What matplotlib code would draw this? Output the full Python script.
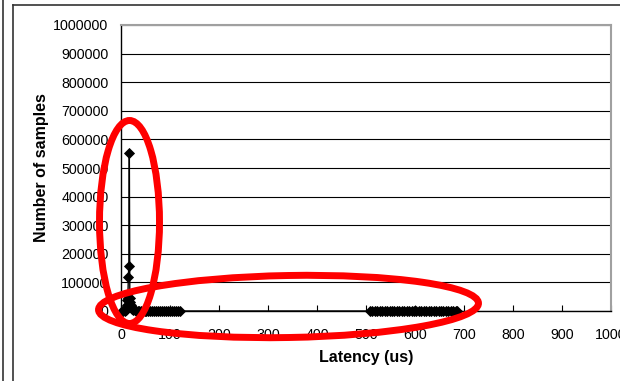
import matplotlib
matplotlib.use("Agg")
import matplotlib.pyplot as plt
from matplotlib.patches import Ellipse
from matplotlib.lines import Line2D
from matplotlib.ticker import FuncFormatter

plt.rcParams['font.family'] = ['Liberation Sans', 'DejaVu Sans']

# latency histogram: fast path peak near 17 us, slow path spread 500-690 us
lat_fast = [2, 5, 8, 10, 12, 13, 14, 15, 16, 17, 18, 19, 20, 21, 22, 23, 25,
            28, 31, 34, 37, 40, 44, 48, 52, 56, 60, 64, 68, 72, 76, 80, 84,
            88, 92, 96, 100, 104, 108, 112, 116, 121]
cnt_fast = [20, 150, 900, 4000, 21000, 38000, 45000, 119000, 157000, 552000,
            47000, 30000, 22000, 14000, 9000, 6000, 3200, 2100, 1500, 900,
            700, 520, 400, 300, 260, 210, 180, 150, 120, 110, 90, 80, 70, 60,
            52, 44, 38, 30, 24, 18, 12, 5]

lat_slow = [508, 513, 518, 523, 528, 533, 538, 543, 548, 553, 558, 563, 568,
            573, 578, 583, 588, 593, 598, 603, 608, 613, 618, 623, 628, 633,
            638, 643, 648, 653, 658, 663, 668, 673, 678, 683, 686]
cnt_slow = [3, 12, 40, 85, 140, 210, 260, 300, 320, 310, 290, 270, 240, 220,
            200, 180, 170, 150, 140, 120, 110, 95, 80, 70, 60, 50, 42, 35, 28,
            22, 17, 12, 9, 6, 4, 2, 1]

latency = lat_fast + lat_slow
samples = cnt_fast + cnt_slow

fig = plt.figure(figsize=(6.2, 3.81), dpi=100)
ax = fig.add_axes([121 / 620, 1 - 311 / 381, 490 / 620, 286 / 381])

# markers sit on the zero line, so don't clip them at the axis
ax.plot(latency, samples, color='black', lw=1.0, marker='D', ms=5.3,
        mfc='black', mec='black', mew=0.6, zorder=3, clip_on=False)

ax.set_xlim(0, 1000)
ax.set_ylim(0, 1000000)
ax.set_xticks(range(0, 1001, 100))
ax.set_yticks(range(0, 1000001, 100000))
ax.yaxis.set_major_formatter(FuncFormatter(lambda v, p: '%d' % v))
ax.grid(axis='y', color='black', lw=0.8)
ax.set_axisbelow(True)
ax.tick_params(axis='x', direction='in', length=4, width=0.8, pad=12, labelsize=10.3)
ax.tick_params(axis='y', direction='in', length=0, pad=9, labelsize=10.3)
for side in ('top', 'right'):
    ax.spines[side].set_color('#a0a0a0')
    ax.spines[side].set_linewidth(1.5)
for side in ('left', 'bottom'):
    ax.spines[side].set_color('black')
    ax.spines[side].set_linewidth(1.0)

ax.set_xlabel('Latency (us)', fontsize=11.5, fontweight='bold', labelpad=6)
ax.set_ylabel('Number of samples', fontsize=11.5, fontweight='bold')
ax.yaxis.set_label_coords(-0.146, 0.5)

# overlay in pixel units for the frame and the red highlight rings
ov = fig.add_axes([0, 0, 1, 1], zorder=10)
ov.set_xlim(0, 620)
ov.set_ylim(381, 0)
ov.axis('off')
ov.patch.set_alpha(0)

ov.add_line(Line2D([2.5, 2.5], [0, 381], color='#333333', lw=1.2))
ov.add_line(Line2D([12.7, 12.7], [4.7, 381], color='#333333', lw=1.2))
ov.add_line(Line2D([12.7, 620], [4.7, 4.7], color='#333333', lw=1.2))

ov.add_patch(Ellipse((129.5, 222), 60, 203, fill=False, ec='#ff0000', lw=5))
ov.add_patch(Ellipse((288.5, 306.5), 380, 62, angle=-1, fill=False,
                     ec='#ff0000', lw=5))

fig.savefig('out.png', dpi=100)
